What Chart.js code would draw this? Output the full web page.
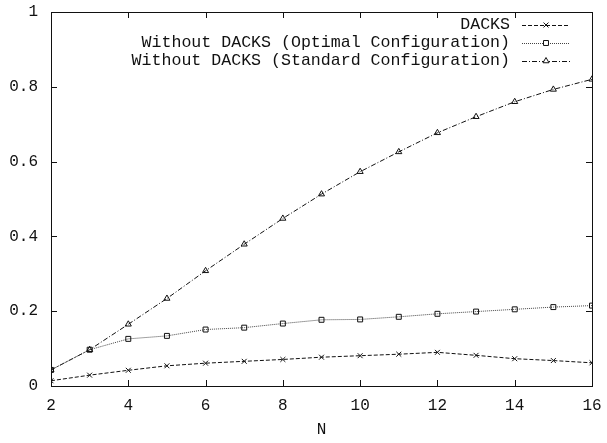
<!DOCTYPE html>
<html>
<head>
<meta charset="utf-8">
<script src="https://cdn.jsdelivr.net/npm/chart.js@4"></script>
<style>
  html, body { margin: 0; padding: 0; background: #fff; }
  #wrap { width: 607px; height: 443px; }
</style>
</head>
<body>
<div id="wrap"><canvas id="c" width="607" height="443"></canvas></div>
<script>
// N values
const nValues = [2, 3, 4, 5, 6, 7, 8, 9, 10, 11, 12, 13, 14, 15, 16];
// series
const dacks = [0.014, 0.029, 0.042, 0.054, 0.061, 0.066, 0.071, 0.077, 0.081, 0.085, 0.090, 0.082, 0.073, 0.068, 0.062];
const optimal = [0.043, 0.097, 0.126, 0.134, 0.151, 0.156, 0.167, 0.177, 0.178, 0.185, 0.193, 0.199, 0.205, 0.211, 0.215];
const standard = [0.043, 0.097, 0.165, 0.234, 0.308, 0.379, 0.448, 0.513, 0.573, 0.626, 0.677, 0.720, 0.760, 0.793, 0.820];
const seriesNames = ["DACKS", "Without DACKS (Optimal Configuration)", "Without DACKS (Standard Configuration)"];
const xTicks = [2, 4, 6, 8, 10, 12, 14, 16];
const yTicks = [0, 0.2, 0.4, 0.6, 0.8, 1];

const FONT = "Liberation Mono, DejaVu Sans Mono, monospace";

const toPts = arr => arr.map((v, i) => ({ x: nValues[i], y: v }));

const mkSet = (label, data, style, dash, color) => ({
  label: label,
  data: toPts(data),
  borderColor: color,
  backgroundColor: "rgba(0,0,0,0)",
  borderWidth: 1,
  borderDash: dash,
  pointStyle: style,
  pointRadius: 3.5,
  pointBorderColor: "#111",
  pointBackgroundColor: "rgba(0,0,0,0)",
  pointBorderWidth: 1,
  tension: 0
});

// gnuplot 스타일: 박스, 안쪽 눈금, 오른쪽 정렬 범례
const framePlugin = {
  id: "frame",
  afterDraw(chart) {
    const ctx = chart.ctx;
    const a = chart.chartArea;
    const xs = chart.scales.x, ys = chart.scales.y;
    ctx.save();
    ctx.strokeStyle = "#111";
    ctx.lineWidth = 1;
    ctx.setLineDash([]);
    ctx.strokeRect(Math.round(a.left) + 0.5, Math.round(a.top) + 0.5,
      Math.round(a.right - a.left), Math.round(a.bottom - a.top));
    const t = 6;
    ctx.beginPath();
    xTicks.forEach(v => {
      const px = Math.round(xs.getPixelForValue(v)) + 0.5;
      ctx.moveTo(px, a.bottom); ctx.lineTo(px, a.bottom - t);
      ctx.moveTo(px, a.top); ctx.lineTo(px, a.top + t);
    });
    yTicks.forEach(v => {
      const py = Math.round(ys.getPixelForValue(v)) + 0.5;
      ctx.moveTo(a.left, py); ctx.lineTo(a.left + t, py);
      ctx.moveTo(a.right, py); ctx.lineTo(a.right - t, py);
    });
    ctx.stroke();

    // 범례
    ctx.font = "16.6px " + FONT;
    ctx.textAlign = "right";
    ctx.textBaseline = "middle";
    chart.data.datasets.forEach((ds, i) => {
      const y = 25 + i * 18;
      ctx.fillStyle = "#111";
      ctx.fillText(ds.label, 510, y);
      ctx.strokeStyle = ds.borderColor;
      ctx.setLineDash(ds.borderDash);
      ctx.beginPath();
      ctx.moveTo(522, y + 0.5); ctx.lineTo(570, y + 0.5);
      ctx.stroke();
      ctx.setLineDash([]);
      ctx.strokeStyle = "#111";
      ctx.fillStyle = "#fff";
      Chart.helpers.drawPoint(ctx, {
        pointStyle: ds.pointStyle, radius: 3.5, rotation: 0, borderWidth: 1
      }, 546, y);
    });
    ctx.restore();
  }
};

new Chart(document.getElementById("c"), {
  type: "line",
  data: {
    datasets: [
      mkSet(seriesNames[0], dacks, "crossRot", [4, 2], "#111"),
      mkSet(seriesNames[1], optimal, "rect", [1, 1], "#444"),
      mkSet(seriesNames[2], standard, "triangle", [5, 2, 1, 2], "#111")
    ]
  },
  options: {
    responsive: false,
    animation: false,
    layout: { padding: { top: 12, right: 15, left: 0, bottom: 0 } },
    plugins: { legend: { display: false }, tooltip: { enabled: false } },
    scales: {
      x: {
        type: "linear",
        min: 2, max: 16,
        afterBuildTicks: s => { s.ticks = xTicks.map(v => ({ value: v })); },
        afterFit: s => { s.height = 57; s.paddingLeft = 0; s.paddingRight = 0; },
        grid: { display: false, drawTicks: false },
        border: { display: false },
        ticks: { color: "#111", font: { family: FONT, size: 16 }, padding: 10, maxRotation: 0 },
        title: { display: true, text: "N", color: "#111", font: { family: FONT, size: 16 }, padding: { top: 10 } }
      },
      y: {
        min: 0, max: 1,
        afterBuildTicks: s => { s.ticks = yTicks.map(v => ({ value: v })); },
        afterFit: s => { s.width = 51; s.paddingTop = 0; s.paddingBottom = 0; },
        grid: { display: false, drawTicks: false },
        border: { display: false },
        ticks: {
          color: "#111", font: { family: FONT, size: 16 }, padding: 13,
          callback: v => String(Number(v.toFixed(1)))
        }
      }
    }
  },
  plugins: [framePlugin]
});
</script>
</body>
</html>
